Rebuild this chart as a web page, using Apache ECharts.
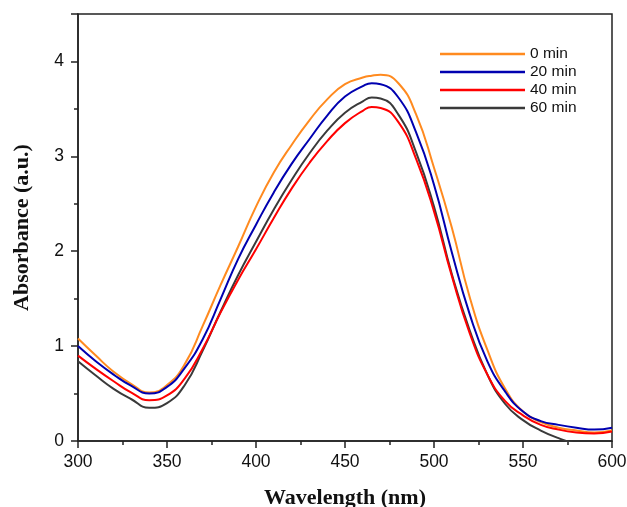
<!DOCTYPE html>
<html>
<head>
<meta charset="utf-8">
<script src="https://cdn.jsdelivr.net/npm/echarts@6/dist/echarts.min.js"></script>
<style>html,body{margin:0;padding:0;background:#fff}#c{width:627px;height:507px}</style>
</head>
<body>
<div id="c"></div>
<script>
const wavelengths = [300,310,320,330,340,350,360,370,380,390,400,410,420,430,440,450,460,465,470,480,490,500,510,520,530,540,550,560,570,580,590,600];
const abs0  = [1.08,0.90,0.73,0.60,0.51,0.59,0.81,1.21,1.64,2.05,2.47,2.83,3.12,3.38,3.60,3.76,3.83,3.85,3.86,3.77,3.44,2.88,2.25,1.52,0.96,0.55,0.31,0.20,0.14,0.11,0.09,0.11];
const abs20 = [1.00,0.84,0.70,0.58,0.50,0.57,0.77,1.07,1.49,1.92,2.28,2.62,2.92,3.18,3.43,3.63,3.74,3.77,3.76,3.62,3.25,2.70,1.99,1.34,0.84,0.52,0.31,0.21,0.17,0.14,0.12,0.14];
const abs40 = [0.90,0.76,0.63,0.51,0.43,0.48,0.66,0.97,1.35,1.70,2.02,2.35,2.66,2.93,3.16,3.35,3.48,3.52,3.51,3.36,2.97,2.42,1.74,1.14,0.70,0.42,0.27,0.17,0.12,0.09,0.08,0.10];
const abs60 = [0.84,0.69,0.55,0.44,0.35,0.40,0.59,0.95,1.36,1.75,2.10,2.44,2.75,3.03,3.27,3.46,3.58,3.62,3.61,3.44,3.04,2.47,1.76,1.17,0.70,0.39,0.22,0.11,0.03,-0.03,-0.06,-0.08];
const seriesNames = ['0 min','20 min','40 min','60 min'];
const seriesColors = ['#ff8a1f','#0000b0','#ff0000','#3a3a3a'];
const yTickLabels = [0,1,2,3,4];

const allData = [abs0, abs20, abs40, abs60];
const chart = echarts.init(document.getElementById('c'), null, {renderer:'canvas'});
const axisColor = '#222';
chart.setOption({
  animation:false,
  backgroundColor:'#fff',
  grid:{left:78,right:15,top:14,bottom:66,show:true,borderColor:axisColor,borderWidth:1.5,containLabel:false,outerBoundsMode:'none'},
  legend:{
    orient:'vertical', left:440, top:46, padding:0, itemWidth:85, itemHeight:2.5, itemGap:2,
    icon:'rect',
    textStyle:{fontFamily:'Liberation Sans, Arial, sans-serif', fontSize:15.5, color:'#111', lineHeight:15},
    data:seriesNames
  },
  xAxis:{
    type:'value', min:300, max:600, interval:50,
    name:'Wavelength (nm)', nameLocation:'middle', nameGap:46,
    nameTextStyle:{fontFamily:'Liberation Serif, Times New Roman, serif', fontWeight:'bold', fontSize:22, color:'#111'},
    axisLine:{show:true, onZero:false, lineStyle:{color:axisColor,width:1.5}},
    axisTick:{show:true, inside:false, length:7, lineStyle:{color:axisColor,width:1.5}},
    minorTick:{show:true, splitNumber:2, length:4, lineStyle:{color:axisColor,width:1.5}},
    axisLabel:{fontFamily:'Liberation Sans, Arial, sans-serif', fontSize:17.5, color:'#111', margin:12},
    splitLine:{show:false}
  },
  yAxis:{
    type:'value', min:0, max:4.5, interval:1,
    name:'Absorbance (a.u.)', nameLocation:'middle', nameGap:45,
    nameTextStyle:{fontFamily:'Liberation Serif, Times New Roman, serif', fontWeight:'bold', fontSize:22, color:'#111'},
    axisLine:{show:true, onZero:false, lineStyle:{color:axisColor,width:1.5}},
    axisTick:{show:true, inside:false, length:7, lineStyle:{color:axisColor,width:1.5}},
    minorTick:{show:true, splitNumber:2, length:4, lineStyle:{color:axisColor,width:1.5}},
    axisLabel:{fontFamily:'Liberation Sans, Arial, sans-serif', fontSize:17.5, color:'#111', margin:14, showMaxLabel:false,
      formatter:function(v){return yTickLabels.indexOf(v)>=0 ? String(v) : '';}},
    splitLine:{show:false}
  },
  series: seriesNames.map(function(n,i){
    return {
      name:n, type:'line', smooth:0.5, showSymbol:false, symbol:'none', clip:true,
      lineStyle:{color:seriesColors[i], width:2},
      itemStyle:{color:seriesColors[i]},
      z: [1,4,3,2][i],
      data: wavelengths.map(function(w,k){return [w, allData[i][k]];})
    };
  })
});
</script>
</body>
</html>
